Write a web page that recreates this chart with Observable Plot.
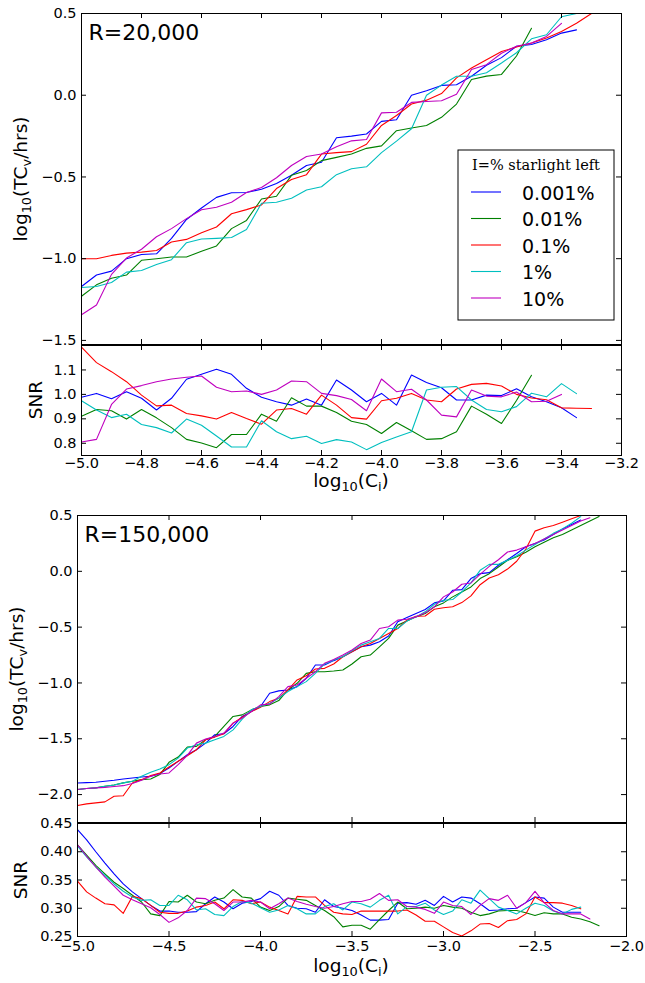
<!DOCTYPE html>
<html><head><meta charset="utf-8">
<script src="https://cdn.jsdelivr.net/npm/d3@7"></script>
<script src="https://cdn.jsdelivr.net/npm/@observablehq/plot@0.6"></script>
<style>
body{margin:0;background:#fff;}
#c{position:relative;width:645px;height:983px;background:#fff;}
#c svg{position:absolute;left:0;overflow:visible;}
</style></head><body><div id="c"></div>
<script>
const series = ["0.001%", "0.01%", "0.1%", "1%", "10%"];
const colors = ["#0000ff", "#008000", "#ff0000", "#00bfbf", "#bf00bf"];
const panelLabels = ["R=20,000", "R=150,000"];
const legendTitle = "I=% starlight left";

const xTicks20 = [-5.0,-4.8,-4.6,-4.4,-4.2,-4.0,-3.8,-3.6,-3.4,-3.2];
const yTicksTc20 = [-1.5,-1.0,-0.5,0.0,0.5];
const yTicksSnr20 = [0.8,0.9,1.0,1.1];
const xTicks150 = [-5.0,-4.5,-4.0,-3.5,-3.0,-2.5,-2.0];
const yTicksTc150 = [-2.0,-1.5,-1.0,-0.5,0.0,0.5];
const yTicksSnr150 = [0.25,0.30,0.35,0.40,0.45];

const x20 = [-5.00,-4.95,-4.90,-4.85,-4.80,-4.75,-4.70,-4.65,-4.60,-4.55,-4.50,-4.45,-4.40,-4.35,-4.30,-4.25,-4.20,-4.15,-4.10,-4.05,-4.00,-3.95,-3.90,-3.85,-3.80,-3.75,-3.70,-3.65,-3.60,-3.55,-3.50,-3.45,-3.40,-3.35,-3.30];
const x150 = [-5.00,-4.95,-4.90,-4.85,-4.80,-4.75,-4.70,-4.65,-4.60,-4.55,-4.50,-4.45,-4.40,-4.35,-4.30,-4.25,-4.20,-4.15,-4.10,-4.05,-4.00,-3.95,-3.90,-3.85,-3.80,-3.75,-3.70,-3.65,-3.60,-3.55,-3.50,-3.45,-3.40,-3.35,-3.30,-3.25,-3.20,-3.15,-3.10,-3.05,-3.00,-2.95,-2.90,-2.85,-2.80,-2.75,-2.70,-2.65,-2.60,-2.55,-2.50,-2.45,-2.40,-2.35,-2.30,-2.25,-2.20,-2.15];

// R=20,000 : log10(TCv/hrs)
const tc20_a = [-1.17,-1.10,-1.076,-1.00,-0.974,-0.97,-0.876,-0.76,-0.69,-0.625,-0.597,-0.595,-0.575,-0.54,-0.49,-0.43,-0.41,-0.26,-0.25,-0.237,-0.16,-0.15,0.00,0.028,0.06,0.064,0.116,0.183,0.23,0.30,0.31,0.34,0.38,0.40];
const tc20_b = [-1.23,-1.16,-1.12,-1.10,-1.01,-1.00,-0.99,-0.99,-0.954,-0.922,-0.816,-0.766,-0.635,-0.618,-0.49,-0.46,-0.40,-0.38,-0.36,-0.325,-0.31,-0.217,-0.20,-0.185,-0.135,-0.054,0.096,0.117,0.127,0.24,0.41];
const tc20_c = [-1.00,-1.00,-0.98,-0.966,-0.96,-0.95,-0.898,-0.882,-0.842,-0.806,-0.725,-0.70,-0.671,-0.571,-0.516,-0.486,-0.36,-0.351,-0.345,-0.30,-0.185,-0.124,-0.054,-0.03,0.01,0.106,0.167,0.217,0.267,0.295,0.32,0.35,0.39,0.44,0.50];
const tc20_d = [-1.176,-1.17,-1.146,-1.082,-1.072,-1.036,-1.006,-0.902,-0.88,-0.876,-0.87,-0.822,-0.661,-0.655,-0.63,-0.58,-0.56,-0.486,-0.45,-0.438,-0.351,-0.281,-0.205,0.0,0.062,0.116,0.116,0.137,0.197,0.26,0.345,0.37,0.48,0.50];
const tc20_e = [-1.343,-1.283,-1.096,-0.996,-0.942,-0.866,-0.816,-0.755,-0.701,-0.685,-0.655,-0.595,-0.565,-0.505,-0.43,-0.375,-0.36,-0.315,-0.279,-0.271,-0.108,-0.104,-0.044,-0.038,-0.034,0.006,0.157,0.187,0.257,0.30,0.32,0.36,0.44];

// R=20,000 : SNR
const snr20_a = [0.988,1.004,0.982,1.011,0.984,0.936,0.984,1.062,1.082,1.103,1.082,1.025,0.988,0.97,0.956,0.981,0.956,1.059,1.018,0.97,1.004,0.956,1.079,1.049,1.027,0.977,0.977,0.997,0.995,1.023,0.99,0.97,0.945,0.905];
const snr20_b = [0.911,0.938,0.933,0.899,0.938,0.904,0.864,0.816,0.801,0.782,0.836,0.836,0.919,0.89,0.986,0.952,0.952,0.926,0.89,0.877,0.84,0.885,0.851,0.816,0.819,0.847,0.952,0.919,0.881,0.975,1.078];
const snr20_c = [1.193,1.13,1.093,1.052,0.997,0.953,0.956,0.922,0.912,0.899,0.926,0.901,0.878,0.936,0.942,0.919,0.997,0.956,0.905,0.899,0.974,0.984,1.004,0.977,0.97,1.022,1.041,1.045,1.034,1.00,0.985,0.978,0.945,0.943,0.942];
const snr20_d = [0.974,0.936,0.905,0.919,0.877,0.864,0.842,0.899,0.874,0.83,0.785,0.785,0.892,0.847,0.819,0.829,0.799,0.815,0.805,0.774,0.803,0.826,0.847,1.018,1.029,1.032,0.977,0.938,0.929,0.95,1.005,0.99,1.044,1.003];
const snr20_e = [0.805,0.816,0.959,1.022,1.036,1.052,1.063,1.07,1.075,1.029,1.011,1.014,1.0,1.018,1.055,1.052,1.004,0.995,0.979,0.933,1.063,1.011,1.021,0.977,0.915,0.908,1.018,0.993,0.99,1.01,0.97,0.972,1.0];

// R=150,000 : log10(TCv/hrs)
const tc150_a = [-1.896,-1.893,-1.89,-1.88,-1.872,-1.86,-1.851,-1.842,-1.836,-1.812,-1.762,-1.702,-1.643,-1.598,-1.539,-1.464,-1.455,-1.39,-1.30,-1.256,-1.211,-1.092,-1.071,-1.063,-1.033,-0.958,-0.839,-0.839,-0.80,-0.765,-0.72,-0.676,-0.661,-0.631,-0.58,-0.452,-0.414,-0.378,-0.342,-0.283,-0.265,-0.17,-0.164,-0.065,-0.021,-0.012,0.054,0.104,0.16,0.22,0.25,0.28,0.33,0.38,0.42,0.46];
const tc150_b = [-1.955,-1.945,-1.94,-1.925,-1.914,-1.895,-1.88,-1.866,-1.86,-1.821,-1.711,-1.664,-1.574,-1.568,-1.509,-1.479,-1.39,-1.30,-1.286,-1.241,-1.211,-1.196,-1.158,-1.063,-1.003,-0.914,-0.899,-0.899,-0.893,-0.884,-0.83,-0.765,-0.75,-0.676,-0.601,-0.482,-0.446,-0.408,-0.378,-0.318,-0.283,-0.229,-0.185,-0.14,-0.065,-0.021,0.039,0.098,0.13,0.17,0.22,0.26,0.30,0.33,0.37,0.41,0.45,0.49];
const tc150_c = [-2.098,-2.083,-2.074,-2.065,-2.015,-2.01,-1.896,-1.866,-1.83,-1.806,-1.753,-1.702,-1.652,-1.598,-1.509,-1.485,-1.455,-1.36,-1.307,-1.256,-1.217,-1.167,-1.137,-1.063,-0.973,-0.935,-0.875,-0.869,-0.83,-0.765,-0.72,-0.676,-0.646,-0.601,-0.557,-0.512,-0.4375,-0.402,-0.40,-0.34,-0.327,-0.318,-0.28,-0.22,-0.12,-0.06,-0.03,0.02,0.09,0.20,0.36,0.39,0.41,0.44,0.47,0.50];
const tc150_d = [-1.955,-1.945,-1.94,-1.925,-1.914,-1.895,-1.88,-1.836,-1.80,-1.771,-1.732,-1.673,-1.583,-1.554,-1.539,-1.509,-1.479,-1.42,-1.324,-1.241,-1.211,-1.182,-1.137,-1.077,-1.033,-0.988,-0.914,-0.83,-0.795,-0.765,-0.711,-0.661,-0.631,-0.601,-0.512,-0.512,-0.446,-0.408,-0.363,-0.295,-0.259,-0.253,-0.185,-0.104,0.009,0.0625,0.0625,0.098,0.14,0.19,0.24,0.29,0.34,0.38,0.43,0.49];
const tc150_e = [-1.955,-1.945,-1.94,-1.935,-1.928,-1.92,-1.90,-1.872,-1.836,-1.815,-1.806,-1.732,-1.649,-1.539,-1.503,-1.479,-1.449,-1.36,-1.315,-1.256,-1.196,-1.19,-1.122,-1.033,-1.018,-0.958,-0.899,-0.824,-0.789,-0.75,-0.705,-0.646,-0.616,-0.512,-0.497,-0.4375,-0.43,-0.408,-0.372,-0.318,-0.229,-0.185,-0.116,-0.104,-0.027,0.045,0.104,0.173,0.19,0.22,0.25,0.29,0.33,0.37,0.41,0.45,0.48];

// R=150,000 : SNR
const snr150_a = [0.439,0.421,0.40,0.38,0.361,0.343,0.329,0.317,0.305,0.295,0.295,0.293,0.293,0.294,0.308,0.32,0.311,0.299,0.309,0.312,0.317,0.33,0.323,0.305,0.30,0.299,0.293,0.315,0.303,0.30,0.296,0.288,0.279,0.279,0.28,0.309,0.31,0.307,0.314,0.305,0.321,0.311,0.32,0.318,0.308,0.296,0.297,0.299,0.30,0.31,0.32,0.318,0.302,0.293,0.293,0.293];
const snr150_b = [0.412,0.394,0.376,0.361,0.346,0.335,0.323,0.311,0.29,0.287,0.312,0.311,0.323,0.311,0.308,0.314,0.318,0.333,0.32,0.318,0.302,0.296,0.303,0.318,0.316,0.314,0.305,0.296,0.285,0.267,0.27,0.27,0.263,0.28,0.296,0.311,0.299,0.30,0.302,0.30,0.305,0.302,0.30,0.293,0.287,0.29,0.295,0.296,0.296,0.292,0.287,0.292,0.29,0.29,0.284,0.281,0.276,0.269];
const snr150_c = [0.348,0.329,0.318,0.308,0.306,0.291,0.321,0.317,0.305,0.293,0.291,0.291,0.295,0.302,0.305,0.311,0.299,0.315,0.314,0.308,0.311,0.302,0.296,0.29,0.321,0.32,0.32,0.305,0.293,0.29,0.289,0.295,0.295,0.295,0.295,0.295,0.297,0.288,0.277,0.277,0.267,0.257,0.251,0.26,0.272,0.273,0.266,0.278,0.28,0.29,0.32,0.31,0.31,0.309,0.305,0.299];
const snr150_d = [0.41,0.391,0.373,0.358,0.343,0.33,0.32,0.314,0.315,0.305,0.305,0.323,0.315,0.297,0.299,0.289,0.287,0.303,0.312,0.309,0.301,0.293,0.297,0.305,0.299,0.29,0.29,0.303,0.308,0.297,0.311,0.308,0.302,0.314,0.323,0.29,0.303,0.303,0.309,0.297,0.289,0.295,0.315,0.309,0.332,0.317,0.302,0.296,0.29,0.30,0.309,0.305,0.295,0.29,0.298,0.302];
const snr150_e = [0.412,0.392,0.373,0.355,0.339,0.323,0.315,0.308,0.301,0.289,0.275,0.283,0.296,0.318,0.317,0.308,0.296,0.311,0.311,0.314,0.311,0.299,0.308,0.318,0.312,0.307,0.303,0.30,0.303,0.308,0.312,0.312,0.316,0.326,0.314,0.315,0.303,0.302,0.298,0.291,0.311,0.305,0.303,0.289,0.305,0.317,0.314,0.323,0.30,0.31,0.33,0.31,0.296,0.29,0.29,0.29,0.281];

function rows(xs, list) {
  return list.flatMap((ys, k) => ys.map((y, i) => ({x: xs[i], y, s: series[k]})));
}

const FONT = "DejaVu Sans, Bitstream Vera Sans, sans-serif";

function panel(o) {
  const W = o.width - o.ml - o.mr, H = o.height - o.mt - o.mb;
  const marks = [
    Plot.line(o.data, {x: "x", y: "y", z: "s", stroke: "s", strokeWidth: 1.1, clip: true}),
    Plot.frame({stroke: "#000", strokeWidth: 1}),
    Plot.ruleX(o.xTicks, {insetBottom: H - 5, stroke: "#000"}),
    Plot.ruleX(o.xTicks, {insetTop: H - 5, stroke: "#000"}),
    Plot.ruleY(o.yTicks, {insetRight: W - 5, stroke: "#000"}),
    Plot.ruleY(o.yTicks, {insetLeft: W - 5, stroke: "#000"}),
    Plot.axisY({ticks: o.yTicks, tickSize: 0, tickPadding: 5, tickFormat: d3.format(o.yFmt), label: null})
  ];
  if (o.showX) marks.push(Plot.axisX({ticks: o.xTicks, tickSize: 0, tickPadding: o.xPad, tickFormat: d3.format(o.xFmt), label: null}));
  if (o.label) marks.push(Plot.text([o.label], {frameAnchor: "top-left", dx: 7, dy: 11, lineAnchor: "top", textAnchor: "start", fontSize: 22}));
  const svg = Plot.plot({
    width: o.width, height: o.height,
    marginTop: o.mt, marginBottom: o.mb, marginLeft: o.ml, marginRight: o.mr,
    x: {domain: o.xDomain, axis: null},
    y: {domain: o.yDomain, axis: null},
    color: {domain: series, range: colors},
    style: {fontFamily: FONT, fontSize: "14.5px", background: "transparent", overflow: "visible", color: "#000"},
    marks
  });
  svg.style.top = o.top + "px";
  document.getElementById("c").appendChild(svg);
  return svg;
}

function subLabel(svg, parts, x, y, rotate, size) {
  const t = d3.select(svg).append("text")
    .attr("transform", `translate(${x},${y})` + (rotate ? " rotate(-90)" : ""))
    .attr("text-anchor", "middle")
    .attr("font-family", FONT)
    .attr("font-size", size)
    .attr("fill", "#000");
  let shifted = false;
  for (const [txt, sub] of parts) {
    const ts = t.append("tspan").text(txt);
    if (sub && !shifted) { ts.attr("dy", 4).attr("font-size", size * 0.7); shifted = true; }
    else if (!sub && shifted) { ts.attr("dy", -4); shifted = false; }
  }
}

const yLab = [["log", false], ["10", true], ["(TC", false], ["v", true], ["/hrs)", false]];
const xLab = [["log", false], ["10", true], ["(C", false], ["i", true], [")", false]];

// Panel 1 main
const p1 = panel({
  data: rows(x20, [tc20_a, tc20_b, tc20_c, tc20_d, tc20_e]),
  width: 645, height: 345, top: 0, mt: 13, mb: 1, ml: 81, mr: 24,
  xDomain: [-5, -3.2], yDomain: [-1.525, 0.5],
  xTicks: xTicks20, yTicks: yTicksTc20, yFmt: ".1f", showX: false, label: panelLabels[0]
});
subLabel(p1, yLab, 27, 179, true, 18.5);

// legend
{
  const g = d3.select(p1).append("g").attr("text-anchor", "start");
  g.append("rect").attr("x", 458).attr("y", 150).attr("width", 156).attr("height", 170)
    .attr("fill", "#fff").attr("stroke", "#000").attr("stroke-width", 1);
  g.append("text").attr("x", 536).attr("y", 170).attr("text-anchor", "middle")
    .attr("font-family", "DejaVu Serif, serif").attr("font-size", 14.5).attr("fill", "#000").text(legendTitle);
  series.forEach((s, i) => {
    const y = 192 + 26.5 * i;
    g.append("line").attr("x1", 471).attr("x2", 501).attr("y1", y).attr("y2", y)
      .attr("stroke", colors[i]).attr("stroke-width", 1.1);
    g.append("text").attr("x", 522).attr("y", y + 7.5).attr("text-anchor", "start")
      .attr("font-family", FONT).attr("font-size", 19).attr("fill", "#000").text(s);
  });
}

// Panel 1 SNR
const p2 = panel({
  data: rows(x20, [snr20_a, snr20_b, snr20_c, snr20_d, snr20_e]),
  width: 645, height: 155, top: 345, mt: 0, mb: 45, ml: 81, mr: 24,
  xDomain: [-5, -3.2], yDomain: [0.75, 1.2],
  xTicks: xTicks20, yTicks: yTicksSnr20, yFmt: ".1f", showX: true, xFmt: ".1f", xPad: 2
});
subLabel(p2, [["SNR", false]], 42, 55, true, 18.5);
subLabel(p2, xLab, 351, 142, false, 18.5);

// Panel 2 main
const p3 = panel({
  data: rows(x150, [tc150_a, tc150_b, tc150_c, tc150_d, tc150_e]),
  width: 645, height: 323, top: 500, mt: 15, mb: 1, ml: 77, mr: 19,
  xDomain: [-5, -2], yDomain: [-2.25, 0.5],
  xTicks: xTicks150, yTicks: yTicksTc150, yFmt: ".1f", showX: false, label: panelLabels[1]
});
subLabel(p3, yLab, 23, 169, true, 18.5);

// Panel 2 SNR
const p4 = panel({
  data: rows(x150, [snr150_a, snr150_b, snr150_c, snr150_d, snr150_e]),
  width: 645, height: 160, top: 823, mt: 0, mb: 47, ml: 77, mr: 19,
  xDomain: [-5, -2], yDomain: [0.25, 0.45],
  xTicks: xTicks150, yTicks: yTicksSnr150, yFmt: ".2f", showX: true, xFmt: ".1f", xPad: 4
});
subLabel(p4, [["SNR", false]], 27, 57, true, 18.5);
subLabel(p4, xLab, 351, 149, false, 18.5);
</script></body></html>
